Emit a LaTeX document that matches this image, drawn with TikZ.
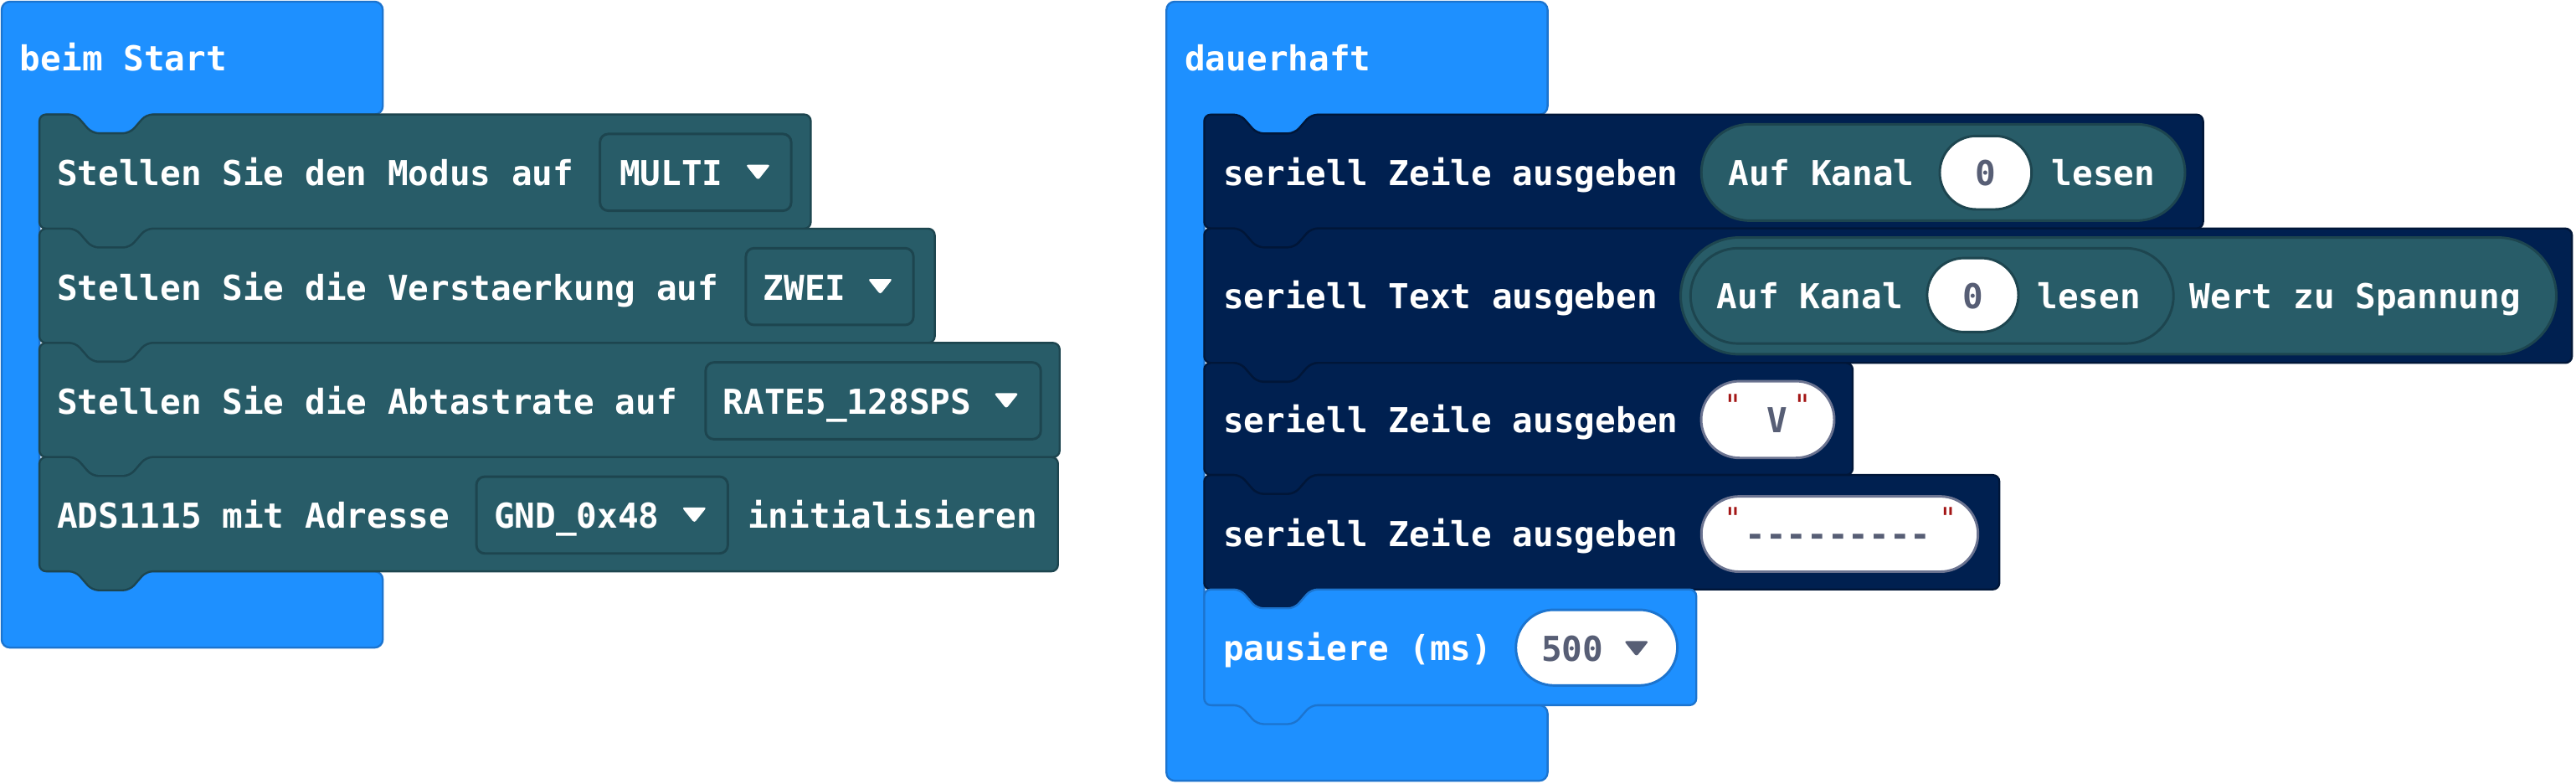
\documentclass[tikz,border=0pt]{standalone}
\usepackage{fontspec}
\newfontfamily\blockfont{DejaVu Sans Mono}[Ligatures=TeXOff]
\usetikzlibrary{shapes.misc}
\definecolor{mcblue}{HTML}{1E90FF}
\definecolor{mcblueline}{HTML}{1C74CF}
\definecolor{adsteal}{HTML}{285C68}
\definecolor{adsline}{HTML}{1D454F}
\definecolor{sernavy}{HTML}{002050}
\definecolor{serline}{HTML}{001638}
\definecolor{fieldgray}{HTML}{575E75}
\definecolor{pillline}{HTML}{6B7390}
\definecolor{quotered}{HTML}{A31515}
\begin{document}
\begin{tikzpicture}[
        x=1pt, y=-1pt,
        line join=round,
        font=\blockfont\bfseries\fontsize{20.9}{25}\selectfont
    ]
    \tikzset{
        hatblk/.style = {fill=mcblue, draw=mcblueline, line width=1.2pt, rounded corners=5pt},
        adsblk/.style = {fill=adsteal, draw=adsline, line width=1.2pt, rounded corners=4pt},
        serblk/.style = {fill=sernavy, draw=serline, line width=1.2pt, rounded corners=4pt},
        waitblk/.style = {fill=mcblue, draw=mcblueline, line width=1.2pt, rounded corners=4pt},
        notchtop/.style = {insert path={-- ++(22,0) -- ++(10,11.5) -- ++(23,0) -- ++(10,-11.5)}},
        tabbot/.style = {insert path={-- ++(-10,11.5) -- ++(-23,0) -- ++(-10,-11.5)}},
        ddbox/.style = {rectangle, rounded corners=5pt, draw=adsline, line width=1.5pt, fill=adsteal, minimum height=46.7pt, inner sep=0pt},
        ddtri/.style = {insert path={-- ++(15,0) -- ++(-7.5,9.4) -- cycle}},
        tealpill/.style = {rounded rectangle, draw=adsline, line width=1.5pt, fill=adsteal, inner sep=0pt},
        whitepill/.style = {rounded rectangle, draw=adsline, line width=1.5pt, fill=white, inner sep=0pt},
        strpill/.style = {rounded rectangle, draw=pillline, line width=1.5pt, fill=white, inner sep=0pt},
        numpill/.style = {rounded rectangle, draw=mcblueline, line width=1.5pt, fill=white, inner sep=0pt},
        lbl/.style = {anchor=base west, inner sep=0pt, text=white},
        fld/.style = {anchor=base west, inner sep=0pt, text=fieldgray},
        quot/.style = {anchor=base, inner sep=0pt, text=quotered, font=\blockfont\fontsize{18}{18}\selectfont},
    }
    \useasboundingbox (0,0) rectangle (1568,476.5);
    %
    \draw[hatblk] (1,1) -- (233,1) -- (233,69.6) -- (89,69.6) [tabbot] -- (24,69.6) -- (24,347.6) -- (233,347.6) -- (233,394) -- (1,394) -- cycle;
    \draw[adsblk] (24,69.6) [notchtop] -- (493.5,69.6) -- (493.5,139.1) -- (89,139.1) [tabbot] -- (24,139.1) -- cycle;
    \draw[adsblk] (24,139.1) [notchtop] -- (569,139.1) -- (569,208.6) -- (89,208.6) [tabbot] -- (24,208.6) -- cycle;
    \draw[adsblk] (24,208.6) [notchtop] -- (645,208.6) -- (645,278.1) -- (89,278.1) [tabbot] -- (24,278.1) -- cycle;
    \draw[adsblk] (24,278.1) [notchtop] -- (644,278.1) -- (644,347.6) -- (89,347.6) [tabbot] -- (24,347.6) -- cycle;
    %
    \node[lbl] (start) at (12,43.3) {beim Start};
    \node[lbl] (mode) at (34.5,113) {Stellen Sie den Modus auf};
    \node[ddbox, minimum width=116.4pt] (modebox) at (423.4,104.85) {};
    \node[lbl] (modeval) at (377,113) {MULTI};
    \fill[white, rounded corners=1.5pt] (453.9,100.2) [ddtri];
    \node[lbl] (gain) at (34.5,182.5) {Stellen Sie die Verstaerkung auf};
    \node[ddbox, minimum width=102pt] (gainbox) at (505,174.35) {};
    \node[lbl] (gainval) at (464.5,182.5) {ZWEI};
    \fill[white, rounded corners=1.5pt] (528.3,169.7) [ddtri];
    \node[lbl] (rate) at (34.5,252) {Stellen Sie die Abtastrate auf};
    \node[ddbox, minimum width=204pt] (ratebox) at (531.5,243.85) {};
    \node[lbl] (rateval) at (440,252) {RATE5\_128SPS};
    \fill[white, rounded corners=1.5pt] (605,239.2) [ddtri];
    \node[lbl] (addr) at (34.5,321.5) {ADS1115 mit Adresse};
    \node[ddbox, minimum width=153pt] (addrbox) at (366.5,313.35) {};
    \node[lbl] (addrval) at (300.5,321.5) {GND\_0x48};
    \fill[white, rounded corners=1.5pt] (415.1,308.7) [ddtri];
    \node[lbl] (init) at (455,321.5) {initialisieren};
    %
    \draw[hatblk] (710,1) -- (942,1) -- (942,69.7) -- (798,69.7) [tabbot] -- (733,69.7) -- (733,429) -- (942,429) -- (942,475) -- (710,475) -- cycle;
    \draw[serblk] (733,69.7) [notchtop] -- (1341,69.7) -- (1341,139) -- (798,139) [tabbot] -- (733,139) -- cycle;
    \draw[serblk] (733,139) [notchtop] -- (1565.5,139) -- (1565.5,220.8) -- (798,220.8) [tabbot] -- (733,220.8) -- cycle;
    \draw[serblk] (733,220.8) [notchtop] -- (1127.7,220.8) -- (1127.7,289) -- (798,289) [tabbot] -- (733,289) -- cycle;
    \draw[serblk] (733,289) [notchtop] -- (1217,289) -- (1217,358.6) -- (798,358.6) [tabbot] -- (733,358.6) -- cycle;
    \draw[waitblk] (733,358.6) [notchtop] -- (1032.5,358.6) -- (1032.5,429) -- (798,429) [tabbot] -- (733,429) -- cycle;
    %
    \node[lbl] (loop) at (721,43.3) {dauerhaft};
    \node[lbl] (line1) at (744.4,113) {seriell Zeile ausgeben};
    \node[tealpill, minimum width=294.4pt, minimum height=58.6pt] (read1) at (1182.8,104.9) {};
    \node[lbl] (kanal1) at (1051.8,113) {Auf Kanal};
    \node[whitepill, minimum width=55.9pt, minimum height=44.7pt] (ch1) at (1208.65,105.05) {};
    \node[fld] (ch1val) at (1202.4,113) {0};
    \node[lbl] (lesen1) at (1248.6,113) {lesen};
    %
    \node[lbl] (text2) at (744.4,188) {seriell Text ausgeben};
    \node[tealpill, minimum width=533pt, minimum height=71pt] (volt2) at (1289.5,180) {};
    \node[tealpill, minimum width=294pt, minimum height=58pt] (read2) at (1176,180) {};
    \node[lbl] (kanal2) at (1044.8,188) {Auf Kanal};
    \node[whitepill, minimum width=55.6pt, minimum height=45pt] (ch2) at (1200.8,179.5) {};
    \node[fld] (ch2val) at (1194.5,188) {0};
    \node[lbl] (lesen2) at (1239.8,188) {lesen};
    \node[lbl] (wert2) at (1332.8,188) {Wert zu Spannung};
    %
    \node[lbl] (line3) at (744.4,263) {seriell Zeile ausgeben};
    \node[strpill, minimum width=81pt, minimum height=46.7pt] (str3) at (1076,255.25) {};
    \node[quot] (q3a) at (1055,252.8) {"};
    \node[fld] (str3val) at (1075.5,263) {V};
    \node[quot] (q3b) at (1097,252.8) {"};
    %
    \node[lbl] (line4) at (744.4,332.5) {seriell Zeile ausgeben};
    \node[strpill, minimum width=168.4pt, minimum height=45.8pt] (str4) at (1119.8,324.9) {};
    \node[quot] (q4a) at (1055,321.8) {"};
    \node[fld] (str4val) at (1062,332.5) {---------};
    \node[quot] (q4b) at (1186,321.8) {"};
    %
    \node[lbl] (pause) at (744.4,402) {pausiere (ms)};
    \node[numpill, minimum width=98.3pt, minimum height=46pt] (ms) at (971.85,394) {};
    \node[fld] (msval) at (938,402.5) {500};
    \fill[fieldgray, rounded corners=1.5pt] (988.6,390) [ddtri];
\end{tikzpicture}
\end{document}
